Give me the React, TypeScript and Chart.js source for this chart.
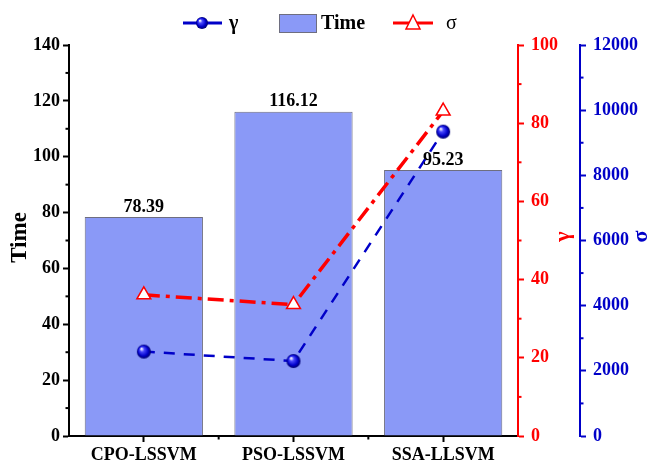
import React, { useEffect, useRef } from 'react';
import { Chart, registerables } from 'chart.js';

Chart.register(...registerables);

const categories = ['CPO-LSSVM', 'PSO-LSSVM', 'SSA-LLSVM'];
const timeValues = [78.39, 116.12, 95.23];
// blue sphere series (legend "γ"), drawn against the blue right axis
const gammaValues = [2590, 2300, 9340];
// red triangle series (legend "σ"), drawn against the red right axis
const sigmaValues = [36.1, 33.6, 83.1];

const timeAxisTitle = 'Time';
const redAxisTitle = 'γ';
const blueAxisTitle = 'σ';
const legendLabels = ['γ', 'Time', 'σ'];

const SERIF = '"Liberation Serif", "Times New Roman", serif';
const RED = '#ff0000';
const BLUE = '#0000c8';
const BAR_FILL = '#8a99f7';
const BAR_BORDER = '#6e6e80';

function makeSphere(r: number): HTMLCanvasElement {
  const c = document.createElement('canvas');
  const s = r * 2 + 2;
  c.width = s;
  c.height = s;
  const g = c.getContext('2d')!;
  const cx = s / 2;
  const grad = g.createRadialGradient(cx - r * 0.35, cx - r * 0.4, r * 0.1, cx, cx, r);
  grad.addColorStop(0, '#e8e8ff');
  grad.addColorStop(0.25, '#4a4aff');
  grad.addColorStop(0.7, '#0000c8');
  grad.addColorStop(1, '#00006a');
  g.fillStyle = grad;
  g.beginPath();
  g.arc(cx, cx, r, 0, Math.PI * 2);
  g.fill();
  return c;
}

const decorPlugin = {
  id: 'decor',
  afterDraw(chart: any) {
    const ctx = chart.ctx as CanvasRenderingContext2D;
    const { chartArea } = chart;
    const yT = chart.scales.yTime;
    const yR = chart.scales.yRed;
    const yB = chart.scales.yBlue;
    ctx.save();
    // minor ticks
    ctx.lineWidth = 2;
    ctx.strokeStyle = '#000';
    for (let v = 10; v < 140; v += 20) {
      const y = yT.getPixelForValue(v);
      ctx.beginPath();
      ctx.moveTo(chartArea.left, y);
      ctx.lineTo(chartArea.left - 3.5, y);
      ctx.stroke();
    }
    ctx.strokeStyle = RED;
    for (let v = 10; v < 100; v += 20) {
      const y = yR.getPixelForValue(v);
      ctx.beginPath();
      ctx.moveTo(yR.left, y);
      ctx.lineTo(yR.left + 3.5, y);
      ctx.stroke();
    }
    ctx.strokeStyle = BLUE;
    for (let v = 1000; v < 12000; v += 2000) {
      const y = yB.getPixelForValue(v);
      ctx.beginPath();
      ctx.moveTo(yB.left, y);
      ctx.lineTo(yB.left + 3.5, y);
      ctx.stroke();
    }
    ctx.strokeStyle = '#000';
    const cw = (chartArea.right - chartArea.left) / categories.length;
    for (let i = 1; i < categories.length; i++) {
      const x = chartArea.left + i * cw;
      ctx.beginPath();
      ctx.moveTo(x, chartArea.bottom);
      ctx.lineTo(x, chartArea.bottom + 3.5);
      ctx.stroke();
    }

    // axis titles
    const drawTitle = (text: string, x: number, y: number, color: string, size: number) => {
      ctx.save();
      ctx.translate(x, y);
      ctx.rotate(-Math.PI / 2);
      ctx.font = `bold ${size}px ${SERIF}`;
      ctx.fillStyle = color;
      ctx.textAlign = 'center';
      ctx.textBaseline = 'middle';
      ctx.fillText(text, 0, 0);
      ctx.restore();
    };
    const midY = (chartArea.top + chartArea.bottom) / 2;
    drawTitle(timeAxisTitle, 20, midY - 3, '#000', 23);
    drawTitle(redAxisTitle, 563, midY - 4, RED, 22);
    drawTitle(blueAxisTitle, 641, midY - 4, BLUE, 22);

    // legend
    const ly = 23;
    ctx.lineWidth = 3;
    ctx.strokeStyle = BLUE;
    ctx.beginPath();
    ctx.moveTo(183, ly);
    ctx.lineTo(222, ly);
    ctx.stroke();
    const sph = makeSphere(6);
    ctx.drawImage(sph, 202 - sph.width / 2, ly - sph.height / 2);
    ctx.fillStyle = '#000';
    ctx.textBaseline = 'middle';
    ctx.textAlign = 'left';
    ctx.font = `bold 20px ${SERIF}`;
    ctx.fillText(legendLabels[0], 229, ly + 1);

    ctx.fillStyle = BAR_FILL;
    ctx.fillRect(279, 14, 37, 18);
    ctx.lineWidth = 1;
    ctx.strokeStyle = BAR_BORDER;
    ctx.strokeRect(279.5, 14.5, 37, 18);
    ctx.fillStyle = '#000';
    ctx.font = `bold 20px ${SERIF}`;
    ctx.fillText(legendLabels[1], 321, ly + 1);

    ctx.lineWidth = 3;
    ctx.strokeStyle = RED;
    ctx.beginPath();
    ctx.moveTo(393, ly);
    ctx.lineTo(433, ly);
    ctx.stroke();
    ctx.beginPath();
    ctx.moveTo(413, 15);
    ctx.lineTo(420, 29);
    ctx.lineTo(406, 29);
    ctx.closePath();
    ctx.fillStyle = '#fff';
    ctx.fill();
    ctx.lineWidth = 1.5;
    ctx.stroke();
    ctx.fillStyle = '#000';
    ctx.font = `20px ${SERIF}`;
    ctx.fillText(legendLabels[2], 446, ly + 1);
    ctx.restore();
  },
  afterDatasetsDraw(chart: any) {
    const ctx = chart.ctx as CanvasRenderingContext2D;
    const meta = chart.getDatasetMeta(0);
    ctx.save();
    ctx.font = `bold 18px ${SERIF}`;
    ctx.fillStyle = '#000';
    ctx.textAlign = 'center';
    ctx.textBaseline = 'bottom';
    meta.data.forEach((el: any, i: number) => {
      ctx.fillText(timeValues[i].toFixed(2), el.x, el.y - 1);
    });
    ctx.restore();
  },
};

export default function App() {
  const ref = useRef<HTMLCanvasElement | null>(null);
  useEffect(() => {
    if (!ref.current) return;
    const tf = () => ({ family: SERIF, size: 18, weight: 'bold' as const });
    const plain = (v: any) => String(v);
    const chart = new Chart(ref.current, {
      type: 'bar',
      data: {
        labels: categories,
        datasets: [
          {
            type: 'bar',
            label: 'Time',
            data: timeValues,
            backgroundColor: BAR_FILL,
            borderColor: BAR_BORDER,
            borderWidth: 1,
            barPercentage: 0.79,
            categoryPercentage: 1,
            yAxisID: 'yTime',
            order: 3,
          },
          {
            type: 'line',
            label: 'γ',
            data: gammaValues,
            borderColor: BLUE,
            borderWidth: 2.5,
            borderDash: [11, 9],
            pointStyle: makeSphere(7) as any,
            pointRadius: 7,
            fill: false,
            yAxisID: 'yBlue',
            order: 2,
          },
          {
            type: 'line',
            label: 'σ',
            data: sigmaValues,
            borderColor: RED,
            borderWidth: 3.5,
            borderDash: [16, 6, 4, 6],
            pointStyle: 'triangle',
            pointRadius: 8,
            pointBackgroundColor: '#fff',
            pointBorderColor: RED,
            pointBorderWidth: 1.5,
            fill: false,
            yAxisID: 'yRed',
            order: 1,
          },
        ] as any,
      },
      options: {
        responsive: false,
        animation: false,
        layout: { padding: { top: 45, left: 0, right: 0, bottom: 0 } },
        plugins: { legend: { display: false }, tooltip: { enabled: false } },
        scales: {
          x: {
            type: 'category',
            offset: true,
            grid: { display: true, drawOnChartArea: false, offset: false, tickLength: 6, tickColor: '#000', tickWidth: 2 },
            border: { display: true, color: '#000', width: 2 },
            ticks: { font: tf(), color: '#000', padding: 3, maxRotation: 0 },
            afterFit: (s: any) => { s.height = 28; },
          },
          yTime: {
            type: 'linear',
            position: 'left',
            min: 0,
            max: 140,
            grid: { display: true, drawOnChartArea: false, tickLength: 6, tickColor: '#000', tickWidth: 2 },
            border: { display: true, color: '#000', width: 2 },
            ticks: { stepSize: 20, font: tf(), color: '#000', padding: 3, callback: plain },
            afterFit: (s: any) => { s.width = 69; },
          },
          yRed: {
            type: 'linear',
            position: 'right',
            weight: 0,
            min: 0,
            max: 100,
            grid: { display: true, drawOnChartArea: false, tickLength: 6, tickColor: RED, tickWidth: 2 },
            border: { display: true, color: RED, width: 2 },
            ticks: { stepSize: 20, font: tf(), color: RED, padding: 7, callback: plain },
            afterFit: (s: any) => { s.width = 62; },
          },
          yBlue: {
            type: 'linear',
            position: 'right',
            weight: 1,
            min: 0,
            max: 12000,
            grid: { display: true, drawOnChartArea: false, tickLength: 6, tickColor: BLUE, tickWidth: 2 },
            border: { display: true, color: BLUE, width: 2 },
            ticks: { stepSize: 2000, font: tf(), color: BLUE, padding: 7, callback: plain },
            afterFit: (s: any) => { s.width = 72; },
          },
        },
      } as any,
      plugins: [decorPlugin],
    });
    return () => chart.destroy();
  }, []);
  return (
    <div style={{ position: 'absolute', left: 0, top: 0, width: 652, height: 464, background: '#fff' }}>
      <canvas ref={ref} width={652} height={464} style={{ display: 'block' }} />
    </div>
  );
}
